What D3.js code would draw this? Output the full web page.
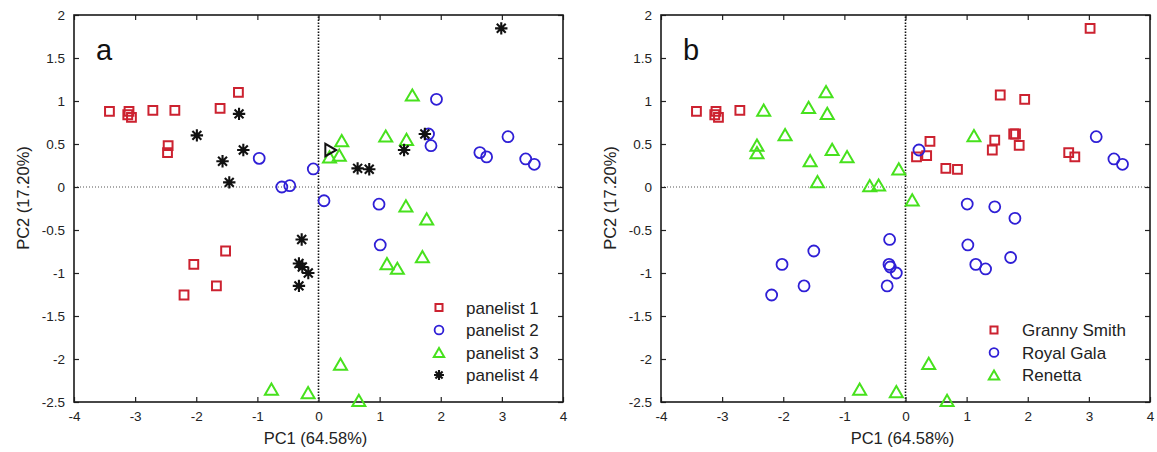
<!DOCTYPE html>
<html><head><meta charset="utf-8">
<script src="https://cdn.jsdelivr.net/npm/d3@7"></script>
<style>body{margin:0;background:#fff}</style>
</head><body>
<svg id="c" width="1157" height="452"></svg>
<script>
// ---------- data ----------
const xTicks = [-4,-3,-2,-1,0,1,2,3,4];
const yTicks = [-2.5,-2,-1.5,-1,-0.5,0,0.5,1,1.5,2];
const xDomain = [-4,4], yDomain = [-2.5,2];
const xLabel = "PC1 (64.58%)", yLabel = "PC2 (17.20%)";

// panel a: by panelist
const panelist1 = [[-3.42,0.88],[-3.10,0.88],[-3.12,0.84],[-3.06,0.81],[-2.71,0.89],[-2.35,0.89],[-1.61,0.915],[-1.31,1.10],[-2.46,0.48],[-2.47,0.40],[-1.52,-0.744],[-2.04,-0.90],[-1.67,-1.15],[-2.20,-1.256]];
const panelist2 = [[-0.97,0.333],[-0.60,0.0],[-0.47,0.015],[-0.085,0.21],[0.09,-0.16],[0.99,-0.2],[1.01,-0.674],[1.93,1.02],[1.80,0.616],[1.84,0.48],[2.64,0.40],[2.75,0.35],[3.10,0.585],[3.39,0.326],[3.53,0.264]];
const panelist3 = [[1.535,1.07],[1.10,0.593],[1.44,0.554],[0.38,0.54],[0.18,0.35],[0.34,0.37],[1.43,-0.22],[1.77,-0.37],[1.70,-0.81],[1.12,-0.89],[1.29,-0.945],[0.36,-2.06],[-0.17,-2.39],[0.66,-2.48],[-0.77,-2.35]];
const panelist4 = [[-1.99,0.60],[-1.30,0.85],[-1.23,0.43],[-1.57,0.30],[-1.46,0.054],[-0.275,-0.61],[-0.32,-0.89],[-0.265,-0.93],[-0.167,-1.0],[-0.32,-1.15],[2.99,1.845],[1.74,0.616],[1.40,0.43],[0.64,0.217],[0.83,0.206]];
const oddMarker = [[0.20,0.43]];
const legendA = ["panelist 1","panelist 2","panelist 3","panelist 4"];

// panel b: by cultivar
const grannySmith = [[-3.42,0.88],[-3.10,0.88],[-3.12,0.84],[-3.06,0.81],[-2.71,0.89],[3.02,1.845],[1.55,1.07],[1.95,1.02],[0.40,0.53],[0.18,0.35],[0.346,0.364],[0.66,0.217],[0.85,0.206],[1.46,0.546],[1.42,0.43],[1.77,0.616],[1.80,0.616],[1.86,0.485],[2.67,0.40],[2.77,0.35]];
const royalGala = [[0.22,0.43],[3.12,0.585],[3.41,0.326],[3.55,0.264],[1.01,-0.198],[1.46,-0.23],[1.79,-0.364],[1.02,-0.674],[1.15,-0.90],[1.31,-0.953],[1.72,-0.82],[-0.26,-0.61],[-0.27,-0.90],[-0.25,-0.93],[-0.15,-1.0],[-0.30,-1.15],[-1.50,-0.744],[-2.02,-0.90],[-1.66,-1.15],[-2.19,-1.256]];
const renetta = [[-2.32,0.895],[-1.585,0.927],[-1.30,1.11],[-1.28,0.857],[-2.43,0.488],[-2.43,0.40],[-1.97,0.61],[-1.56,0.306],[-1.20,0.438],[-0.956,0.353],[-1.44,0.062],[-0.585,0.015],[-0.44,0.023],[-0.11,0.21],[0.11,-0.15],[1.12,0.597],[0.38,-2.05],[-0.15,-2.38],[0.68,-2.48],[-0.75,-2.35]];
const legendB = ["Granny Smith","Royal Gala","Renetta"];

// ---------- style ----------
const RED="#cc2230", BLUE="#2f1fd6", GREEN="#47e11d", BLACK="#111";
const FONT="'Liberation Sans', Arial, Helvetica, sans-serif";

function markerPath(type, s){
  if(type==="square"){const h=4.4*s;return `M${-h},${-h}H${h}V${h}H${-h}Z`;}
  if(type==="circle"){const r=5.5*s;return `M${r},0A${r},${r} 0 1,1 ${-r},0A${r},${r} 0 1,1 ${r},0Z`;}
  if(type==="triangle"){const w=6.5*s,h=5.6*s;return `M0,${-h}L${w},${h}L${-w},${h}Z`;}
  if(type==="rtriangle"){const w=6.2*s,h=5.4*s;return `M${h},0L${-h},${w}L${-h},${-w}Z`;}
  if(type==="star"){const a=6.2*s,d=a*0.72;return `M0,${-a}V${a}M${-a},0H${a}M${-d},${-d}L${d},${d}M${-d},${d}L${d},${-d}`;}
}
const styles = {
  square:{color:RED,width:2},
  circle:{color:BLUE,width:1.8},
  triangle:{color:GREEN,width:2},
  rtriangle:{color:BLACK,width:2},
  star:{color:BLACK,width:2.1}
};

const svg = d3.select("#c");
const plotTop=15, plotBottom=402;

function panel(x0, x1, letter, series, legend, legendPos){
  const x = d3.scaleLinear().domain(xDomain).range([x0,x1]);
  const y = d3.scaleLinear().domain(yDomain).range([plotBottom,plotTop]);
  const g = svg.append("g");

  g.append("line").attr("x1",x(xDomain[0])).attr("x2",x(xDomain[1])).attr("y1",y(0)).attr("y2",y(0))
    .attr("stroke","#555").attr("stroke-width",1).attr("stroke-dasharray","1,2");
  g.append("line").attr("x1",x(0)).attr("x2",x(0)).attr("y1",y(yDomain[0])).attr("y2",y(yDomain[1]))
    .attr("stroke","#111").attr("stroke-width",1.6).attr("stroke-dasharray","1.5,1.5");

  const fmt = d => String(d);
  const ax = [
    g.append("g").attr("transform",`translate(0,${plotBottom})`).call(d3.axisBottom(x).tickValues(xTicks).tickFormat(fmt).tickSize(-5).tickPadding(9)),
    g.append("g").attr("transform",`translate(${x0},0)`).call(d3.axisLeft(y).tickValues(yTicks).tickFormat(fmt).tickSize(-5).tickPadding(9)),
    g.append("g").attr("transform",`translate(0,${plotTop})`).call(d3.axisTop(x).tickValues(xTicks).tickFormat("").tickSize(-5)),
    g.append("g").attr("transform",`translate(${x1},0)`).call(d3.axisRight(y).tickValues(yTicks).tickFormat("").tickSize(-5))
  ];
  ax.forEach(a=>{
    a.select(".domain").remove();
    a.selectAll(".tick line").attr("stroke","#222").attr("stroke-width",1.2);
    a.selectAll("text").attr("font-family",FONT).attr("font-size",13.5).attr("fill","#222");
  });
  g.append("rect").attr("x",x0).attr("y",plotTop).attr("width",x1-x0).attr("height",plotBottom-plotTop)
    .attr("fill","none").attr("stroke","#1a1a1a").attr("stroke-width",1.6);

  g.append("text").attr("x",(x0+x1)/2-3).attr("y",444).attr("text-anchor","middle")
    .attr("font-family",FONT).attr("font-size",16.5).attr("fill","#222").text(xLabel);
  g.append("text").attr("transform",`translate(${x0-45},198) rotate(-90)`)
    .attr("text-anchor","middle").attr("font-family",FONT).attr("font-size",16.5).attr("fill","#222").text(yLabel);
  g.append("text").attr("x",x0+22).attr("y",60).attr("font-family",FONT).attr("font-size",29).attr("fill","#111").text(letter);

  series.forEach(s=>{
    const st = styles[s.type];
    g.append("g").selectAll("path").data(s.data).join("path")
      .attr("transform",d=>`translate(${x(d[0])},${y(d[1])})`)
      .attr("d",markerPath(s.type,1))
      .attr("fill","none").attr("stroke",st.color).attr("stroke-width",st.width);
  });

  legend.forEach((name,i)=>{
    const s = series[i], st = styles[s.type];
    const ly = legendPos.y + i*22.5;
    g.append("path").attr("transform",`translate(${legendPos.mx},${ly})`)
      .attr("d",markerPath(s.type,0.8)).attr("fill","none").attr("stroke",st.color).attr("stroke-width",st.width);
    g.append("text").attr("x",legendPos.tx).attr("y",ly).attr("dy","0.36em")
      .attr("font-family",FONT).attr("font-size",17).attr("fill","#222").text(name);
  });
}

panel(74, 563, "a", [
  {data:panelist1,type:"square"},
  {data:panelist2,type:"circle"},
  {data:panelist3,type:"triangle"},
  {data:panelist4,type:"star"},
  {data:oddMarker,type:"rtriangle"}
], legendA, {mx:439, tx:466, y:307.5});

panel(661, 1150, "b", [
  {data:grannySmith,type:"square"},
  {data:royalGala,type:"circle"},
  {data:renetta,type:"triangle"}
], legendB, {mx:994, tx:1022, y:330});
</script>
</body></html>
